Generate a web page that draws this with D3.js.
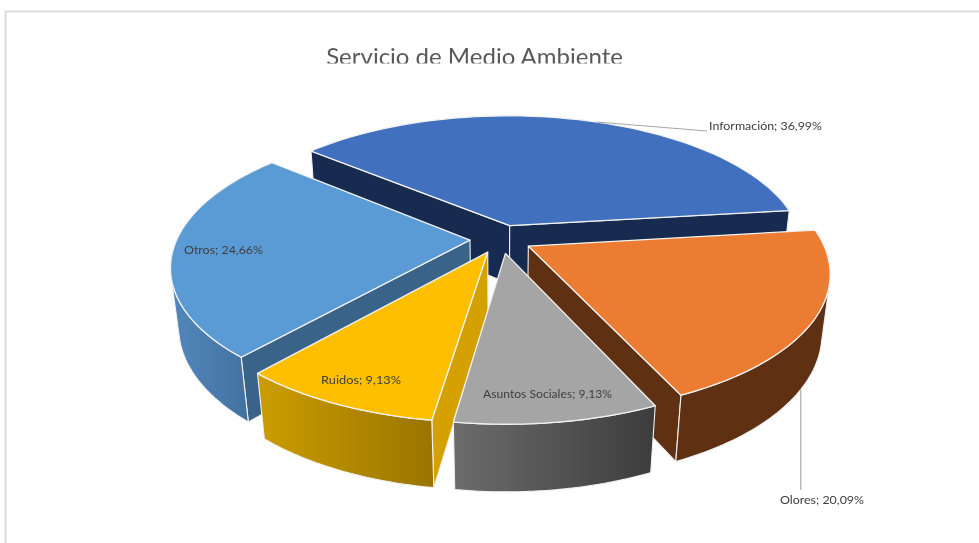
<!DOCTYPE html>
<html>
<head>
<meta charset="utf-8">
<script src="https://cdn.jsdelivr.net/npm/d3@7"></script>
<style>
html,body{margin:0;padding:0;background:#fff;overflow:hidden}
svg{display:block;filter:blur(0.35px)}
text{font-family:Lato,"Open Sans",sans-serif}
</style>
</head>
<body>
<svg id="chart" width="979" height="543"></svg>
<script>
// ---- data ----
const categories = ["Información", "Olores", "Asuntos Sociales", "Ruidos", "Otros"];
const values = [36.99, 20.09, 9.13, 9.13, 24.66];
const valueLabels = ["36,99%", "20,09%", "9,13%", "9,13%", "24,66%"];
const title = "Servicio de Medio Ambiente";

// ---- styles ----
const topColors = ["#4170bf", "#eb7c32", "#a5a5a5", "#fdbf00", "#5b9bd5"];
const radialWallColors = ["#172b50", "#5f3112", "#636363", "#d4a100", "#396388"];
const rimGradients = [
  ["#172b50", "#172b50"], ["#5f3112", "#5f3112"], ["#6c6c6c", "#3c3c3c"],
  ["#cc9c00", "#997500"], ["#5288bd", "#43719f"]
];
const drawOrder = [0, 4, 1, 3, 2];

// ---- camera / layout ----
const startDeg = -50, explode = 0.106;
const centre = {x: 501, y: 239}, horizon = -502, planeL = 741, tiltK = 0.181;
const radiusPx = 293, vanish = {x: 500, y: 2700}, depthK = 0.0245;
const rad = d => d * Math.PI / 180;

const svg = d3.select("#chart");
const defs = svg.append("defs");
const xScale = d3.scaleLinear().domain([0, 1]).range([0, radiusPx]);

function project(x, y, bottom) {
  const w = 1 - tiltK * y;
  const sx = centre.x + xScale(x) / w;
  const sy = horizon + planeL / w;
  if (!bottom) return [sx, sy];
  return [(sx * w + depthK * vanish.x) / (w + depthK),
          (sy * w + depthK * vanish.y) / (w + depthK)];
}

const pie = d3.pie().sort(null).startAngle(rad(startDeg)).endAngle(rad(startDeg + 360));
const arcs = pie(values);
const line = d3.line();

function pointOn(d, r, a, bottom) {
  const mid = (d.startAngle + d.endAngle) / 2;
  const ox = explode * Math.sin(mid), oy = -explode * Math.cos(mid);
  return project(ox + r * Math.sin(a), oy - r * Math.cos(a), bottom);
}
function facing(p1, p2, q1) {
  const dx = p2[0] - p1[0], dy = p2[1] - p1[1];
  const zx = q1[0] - p1[0], zy = q1[1] - p1[1];
  return dx * zy - dy * zx < 0;
}

// frame
svg.append("path").attr("d", line([[5.5, 543], [5.5, 11.5], [979, 11.5]]))
  .attr("fill", "none").attr("stroke", "#dcdcdc").attr("stroke-width", 2);

// title, cut at the bottom as in the source
defs.append("clipPath").attr("id", "titleClip").append("rect")
  .attr("x", 0).attr("y", 20).attr("width", 979).attr("height", 43.5);
svg.append("g").attr("clip-path", "url(#titleClip)").append("text")
  .attr("x", 474.5).attr("y", 65).attr("text-anchor", "middle")
  .attr("font-size", 24).attr("fill", "#595959").text(title);

rimGradients.forEach((g, i) => {
  const lg = defs.append("linearGradient").attr("id", "rim" + i)
    .attr("x1", 0).attr("x2", 1).attr("y1", 0).attr("y2", 0);
  lg.append("stop").attr("offset", 0).attr("stop-color", g[0]);
  lg.append("stop").attr("offset", 1).attr("stop-color", g[1]);
});

const edge = {stroke: "#f2f2f2", width: 1.1};

drawOrder.forEach(i => {
  const d = arcs[i];
  const g = svg.append("g").attr("class", "slice").attr("data-name", categories[i]);
  const angles = d3.range(0, 61).map(k => d.startAngle + (d.endAngle - d.startAngle) * k / 60);
  const apexT = pointOn(d, 0, 0, false), apexB = pointOn(d, 0, 0, true);
  const rimT = angles.map(a => pointOn(d, 1, a, false));
  const rimB = angles.map(a => pointOn(d, 1, a, true));

  const wall = (pts, fill) => g.append("path").attr("d", line(pts) + "Z")
    .attr("fill", fill).attr("stroke", edge.stroke).attr("stroke-width", edge.width)
    .attr("stroke-linejoin", "round");

  // radial walls
  const n = angles.length - 1;
  if (facing(apexT, rimT[0], apexB))
    wall([apexT, rimT[0], rimB[0], apexB], radialWallColors[i]);
  if (facing(rimT[n], apexT, rimB[n]))
    wall([rimT[n], apexT, apexB, rimB[n]], radialWallColors[i]);

  // outer wall: only the segments turned to the viewer
  const vis = d3.range(n).filter(k => facing(rimT[k], rimT[k + 1], rimB[k]));
  if (vis.length) {
    const from = vis[0], to = vis[vis.length - 1] + 1;
    wall(rimT.slice(from, to + 1).concat(rimB.slice(from, to + 1).reverse()), `url(#rim${i})`);
  }

  // top face
  g.append("path").attr("d", line([apexT].concat(rimT)) + "Z")
    .attr("fill", topColors[i]).attr("stroke", edge.stroke)
    .attr("stroke-width", 1.3).attr("stroke-linejoin", "round");
});

// leader lines
const leaderAngles = [21, 122];
const leaderBottom = [false, true];
const leaderEnds = [[707, 131], [null, 490]];
[0, 1].forEach(j => {
  const start = pointOn(arcs[j], 1, rad(leaderAngles[j]), leaderBottom[j]);
  const end = [leaderEnds[j][0] === null ? start[0] : leaderEnds[j][0], leaderEnds[j][1]];
  svg.append("path").attr("d", line([start, end])).attr("fill", "none")
    .attr("stroke", "#a6a6a6").attr("stroke-width", 1.1);
});

// labels
const labelX = [709, 780, 483, 321, 184];
const labelY = [130, 504, 398, 384, 254];
const labelWidths = [113, 84, 129, 80, 79];
categories.forEach((c, i) => {
  svg.append("text").attr("x", labelX[i]).attr("y", labelY[i])
    .attr("font-size", 12).attr("fill", "#404040")
    .attr("textLength", labelWidths[i]).attr("lengthAdjust", "spacingAndGlyphs")
    .text(`${c}; ${valueLabels[i]}`);
});
</script>
</body>
</html>
